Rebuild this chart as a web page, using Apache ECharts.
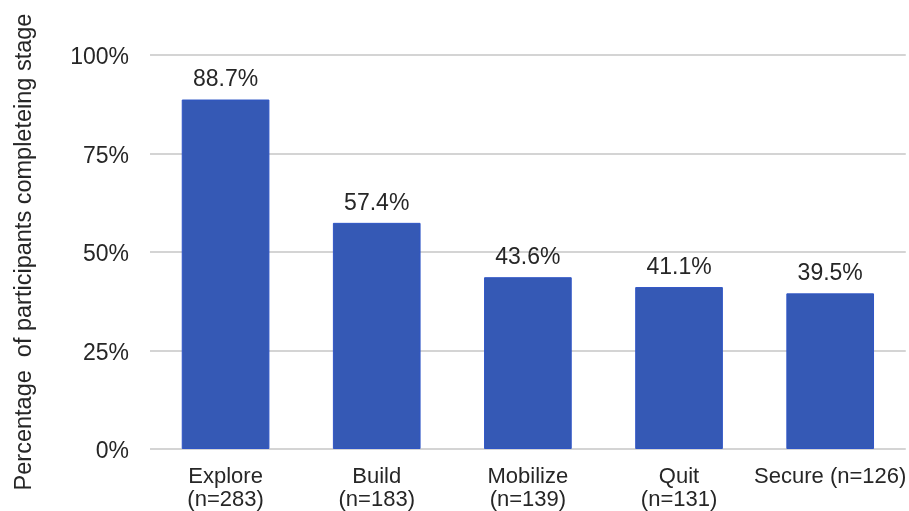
<!DOCTYPE html>
<html>
<head>
<meta charset="utf-8">
<script src="https://cdn.jsdelivr.net/npm/echarts@6/dist/echarts.min.js"></script>
<style>
  html, body { margin: 0; padding: 0; background: #fff; }
  #chart { width: 909px; height: 511px; }
</style>
</head>
<body>
<div id="chart"></div>
<script>
// Stage completion data
const stages = ['Explore\n(n=283)', 'Build\n(n=183)', 'Mobilize\n(n=139)', 'Quit\n(n=131)', 'Secure (n=126)'];
const completionPct = [88.7, 57.4, 43.6, 41.1, 39.5];
const yTicks = [0, 25, 50, 75, 100];

const font = 'Liberation Sans, Arial, sans-serif';
const textColor = '#262626';

const chart = echarts.init(document.getElementById('chart'), null, { renderer: 'canvas' });
chart.setOption({
  animation: false,
  grid: { left: 150, width: 759, top: 55, bottom: 62, containLabel: false },
  xAxis: {
    type: 'category',
    data: stages,
    axisLine: { show: false },
    axisTick: { show: false },
    axisLabel: {
      color: textColor, fontFamily: font, fontSize: 22, lineHeight: 23,
      margin: 16, interval: 0
    }
  },
  yAxis: {
    type: 'value',
    min: yTicks[0],
    max: yTicks[yTicks.length - 1],
    interval: 25,
    name: 'Percentage  of participants completeing stage',
    nameLocation: 'middle',
    nameGap: 113,
    nameTextStyle: { color: textColor, fontFamily: font, fontSize: 23.5 },
    axisLine: { show: false },
    axisTick: { show: false },
    axisLabel: {
      color: textColor, fontFamily: font, fontSize: 23, margin: 21,
      verticalAlign: 'top', lineHeight: 6,
      formatter: v => v + '%'
    },
    splitLine: { lineStyle: { color: '#d4d4d4', width: 2 } }
  },
  series: [{
    type: 'bar',
    data: completionPct,
    barWidth: '58%',
    itemStyle: { color: '#3559b5', borderColor: '#2f55c6', borderWidth: 1 },
    label: {
      show: true, position: 'top', distance: 8,
      color: textColor, fontFamily: font, fontSize: 23,
      formatter: p => p.value.toFixed(1) + '%'
    }
  }]
});
</script>
</body>
</html>
